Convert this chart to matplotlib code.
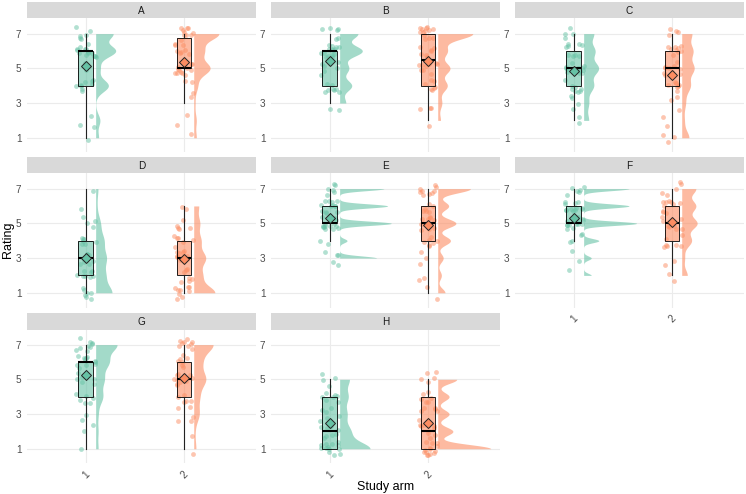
import numpy as np
import matplotlib
matplotlib.use("Agg")
import matplotlib.pyplot as plt

plt.rcParams["font.family"] = ["Liberation Sans", "DejaVu Sans"]

# counts of ratings 1..7 for each item (A-H) and study arm (1, 2)
ratings = [1, 2, 3, 4, 5, 6, 7]
items = ["A", "B", "C", "D", "E", "F", "G", "H"]
arms = ["1", "2"]

counts_arm1 = {
    "A": [1, 3, 0, 9, 3, 14, 6],
    "B": [0, 0, 2, 8, 6, 15, 6],
    "C": [0, 2, 4, 8, 12, 9, 4],
    "D": [7, 8, 9, 7, 4, 1, 1],
    "E": [0, 0, 5, 2, 14, 13, 6],
    "F": [0, 1, 2, 4, 14, 12, 6],
    "G": [1, 2, 2, 6, 7, 11, 9],
    "H": [13, 9, 6, 7, 4, 0, 0],
}
counts_arm2 = {
    "A": [1, 2, 1, 3, 13, 8, 10],
    "B": [0, 1, 3, 7, 9, 7, 13],
    "C": [3, 2, 3, 7, 10, 9, 4],
    "D": [9, 7, 10, 6, 5, 2, 0],
    "E": [2, 2, 3, 7, 10, 6, 9],
    "F": [0, 2, 2, 7, 11, 10, 5],
    "G": [1, 1, 5, 5, 11, 7, 9],
    "H": [14, 8, 6, 6, 5, 0, 0],
}

# kde bandwidth per item and arm (the half-violins are not all equally smooth)
kde_bw = {
    "A": (0.35, 0.38), "B": (0.32, 0.33), "C": (0.38, 0.40), "D": (0.45, 0.40),
    "E": (0.12, 0.25), "F": (0.12, 0.35), "G": (0.42, 0.45), "H": (0.40, 0.24),
}

colors = ["#66C2A5", "#FC8D62"]

W, H = 746, 494
fig = plt.figure(figsize=(W / 100, H / 100), dpi=100)

col_x = [27, 271, 515]
pw = 229
strip_top = [2, 157, 313]
sh = 16.5
ph = 134

rng = np.random.default_rng(7)  # only for the jitter of the points


def expand(counts):
    return np.repeat(ratings, counts).astype(float)


def kde(vals, grid, bw):
    # gaussian kde, reflected at the data range
    n = len(vals)
    lo, hi = vals.min(), vals.max()
    d = np.zeros_like(grid)
    for c in (vals, 2 * lo - vals, 2 * hi - vals):
        d += np.exp(-0.5 * ((grid[:, None] - c[None, :]) / bw) ** 2).sum(1)
    return d / (n * bw * np.sqrt(2 * np.pi))


dens = {}
for it in items:
    for g, cnt in enumerate([counts_arm1[it], counts_arm2[it]]):
        v = expand(cnt)
        grid = np.linspace(v.min(), v.max(), 400)
        dens[(it, g)] = (grid, kde(v, grid, kde_bw[it][g]))
gmax = max(d.max() for _, d in dens.values())

for k, it in enumerate(items):
    r, c = divmod(k, 3)
    x0 = col_x[c]
    top = strip_top[r]
    ax = fig.add_axes([x0 / W, 1 - (top + sh + ph) / H, pw / W, ph / H])
    sax = fig.add_axes([x0 / W, 1 - (top + sh) / H, pw / W, sh / H])
    sax.set_facecolor("#d9d9d9")
    sax.set_xticks([]); sax.set_yticks([])
    for s in sax.spines.values():
        s.set_visible(False)
    sax.text(0.5, 0.45, it, ha="center", va="center", fontsize=7.2, color="#1a1a1a")

    for g, cnt in enumerate([counts_arm1[it], counts_arm2[it]]):
        pos = g + 1
        col = colors[g]
        v = expand(cnt)
        grid, d = dens[(it, g)]
        ax.fill_betweenx(grid, pos + 0.1, pos + 0.1 + d / gmax * 0.54,
                         color=col, alpha=0.6, lw=0, zorder=2)
        jx = rng.uniform(-0.1, 0.1, len(v))
        jy = rng.uniform(-0.4, 0.4, len(v))
        ax.scatter(pos + jx, v + jy, s=12, color=col, alpha=0.5, lw=0, zorder=3)
        q1, med, q3 = np.percentile(v, [25, 50, 75])
        iqr = q3 - q1
        lo = v[v >= q1 - 1.5 * iqr].min()
        hi = v[v <= q3 + 1.5 * iqr].max()
        bw = 0.075
        ax.add_patch(plt.Rectangle((pos - bw, q1), 2 * bw, q3 - q1, facecolor=col,
                                   alpha=0.6, edgecolor="none", zorder=4))
        ax.add_patch(plt.Rectangle((pos - bw, q1), 2 * bw, q3 - q1, facecolor="none",
                                   edgecolor="black", lw=0.6, zorder=5))
        ax.plot([pos, pos], [q3, hi], color="#222222", lw=0.8, zorder=5)
        ax.plot([pos, pos], [lo, q1], color="#222222", lw=0.8, zorder=5)
        ax.plot([pos - bw, pos + bw], [med, med], color="black", lw=1.5, zorder=5,
                solid_capstyle="butt")
        ax.plot(pos, v.mean(), marker="D", ms=5.5, mfc=col, mec="#222222", mew=0.7,
                zorder=6)

    ax.set_xlim(0.4, 2.735)
    ax.set_ylim(0.15, 7.87)
    ax.set_yticks([1, 3, 5, 7])
    ax.set_xticks([1, 2])
    ax.grid(True, color="#ebebeb", lw=0.8, zorder=0)
    ax.set_axisbelow(True)
    for s in ax.spines.values():
        s.set_visible(False)
    ax.tick_params(length=0, labelsize=7.2, labelcolor="#4d4d4d", pad=4)
    if k in (5, 6, 7):
        ax.set_xticklabels(arms, rotation=45, ha="center", va="top")
    else:
        ax.set_xticklabels([])

fig.text(385.5 / W, 1 - 487 / H, "Study arm", ha="center", va="center", fontsize=9)
fig.text(8 / W, 1 - 240 / H, "Rating", ha="center", va="center", rotation=90, fontsize=9)

fig.savefig("out.png", dpi=100)
